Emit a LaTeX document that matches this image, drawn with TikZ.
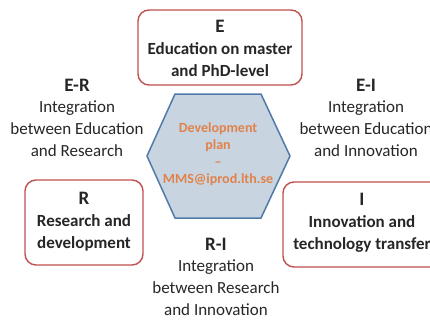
\documentclass[tikz,border=0pt]{standalone}
\usepackage{fontspec}
\setmainfont{Carlito}
\definecolor{boxred}{HTML}{C0504D}
\definecolor{hexfill}{HTML}{C9D4E1}
\definecolor{hexline}{HTML}{4F7AAA}
\definecolor{orangetxt}{HTML}{E0824A}
\definecolor{txt}{HTML}{262626}
\newcommand{\ttl}[1]{{\fontsize{19}{22}\selectfont\bfseries #1}}
\begin{document}
\begin{tikzpicture}[x=1pt,y=-1pt,
  redbox/.style={draw=boxred,line width=1.4pt,rounded corners=11pt,fill=white},
  boxtext/.style={align=center,text=txt,font=\fontsize{17}{22}\selectfont\bfseries,inner sep=0pt},
  pairtext/.style={align=center,text=txt,font=\fontsize{17}{21.7}\selectfont,inner sep=0pt},
  hextext/.style={align=center,text=orangetxt,font=\fontsize{14}{16.8}\selectfont\bfseries,inner sep=0pt}]
\useasboundingbox (0,0) rectangle (430,322);
\clip (0,0) rectangle (430,322);
% boxes
\draw[redbox] (138,10) rectangle (302,85);
\node[boxtext] (E) at (220,48) {\ttl{E}\\Education on master\\and PhD-level};
\draw[redbox] (25,180) rectangle (143,265);
\node[boxtext] (R) at (84,222) {\ttl{R}\\Research and\\development};
\draw[redbox] (283,182) rectangle (442,267);
\node[boxtext] (I) at (362,223) {\ttl{I}\\Innovation and\\technology transfer};
% hexagon
\coordinate (h1) at (175,94);
\coordinate (h2) at (261,94);
\coordinate (h3) at (290,156);
\coordinate (h4) at (261,218);
\coordinate (h5) at (175,218);
\coordinate (h6) at (147,156);
\draw[fill=hexfill,draw=hexline,line width=1.5pt,line join=miter] (h1)--(h2)--(h3)--(h4)--(h5)--(h6)--cycle;
\node[hextext] (D) at (218,154) {Development\\plan\\--\\MMS@iprod.lth.se};
% pair labels
\node[pairtext] (ER) at (77,117.5) {\ttl{E-R}\\Integration\\between Education\\and Research};
\node[pairtext] (EI) at (366,117.5) {\ttl{E-I}\\Integration\\between Education\\and Innovation};
\node[pairtext] (RI) at (216,276.5) {\ttl{R-I}\\Integration\\between Research\\and Innovation};
\end{tikzpicture}
\end{document}
